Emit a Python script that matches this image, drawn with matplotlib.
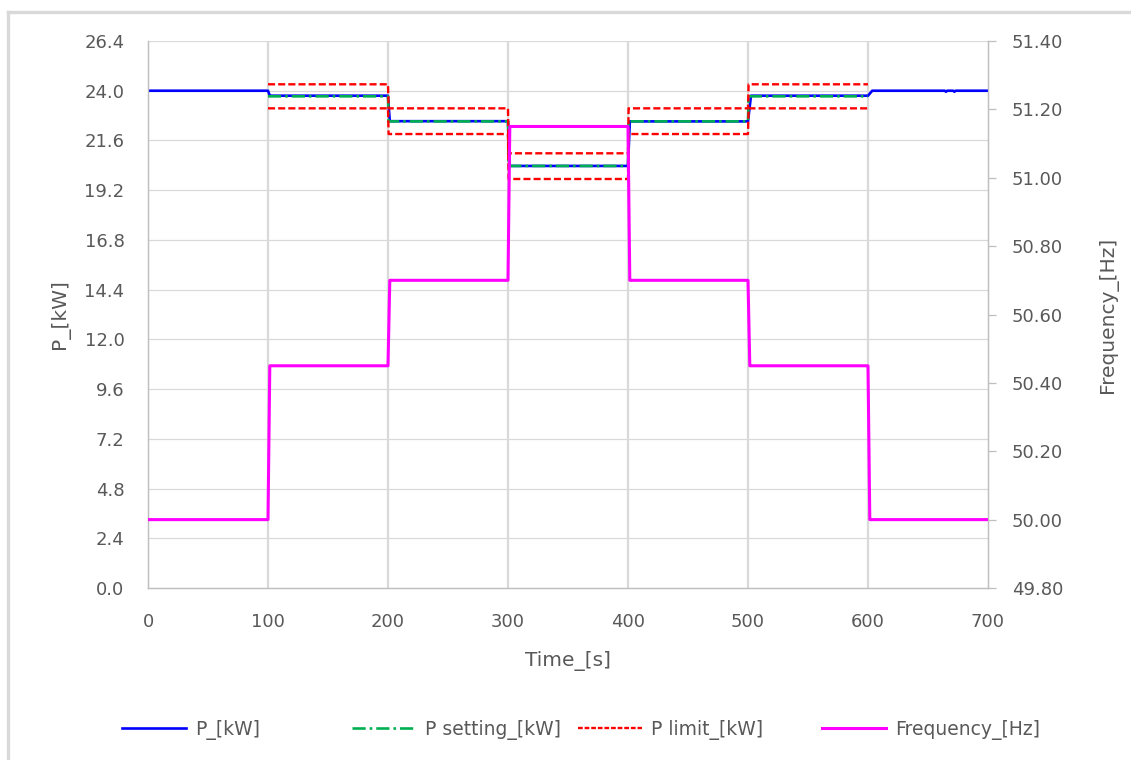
import matplotlib
matplotlib.use("Agg")
import matplotlib.pyplot as plt
from matplotlib.lines import Line2D

# values
TIME_P = [0, 100, 101.5, 200, 201.5, 300, 301.5, 400, 401.5, 500, 502.5,
          600, 601.5, 603.5, 664, 665, 666, 671, 672, 673, 700]
P_KW = [24.0, 24.0, 23.76, 23.76, 22.53, 22.53, 20.37, 20.37, 22.52, 22.52, 23.76,
        23.76, 23.86, 24.0, 24.0, 23.95, 24.0, 24.0, 23.95, 24.0, 24.0]

TIME_SET = [100, 200, 200.5, 300, 300.5, 400, 400.5, 500, 500.5, 600]
P_SET = [23.73, 23.73, 22.52, 22.52, 20.37, 20.37, 22.52, 22.52, 23.73, 23.73]

TIME_LIM = [100, 200, 200.5, 300, 300.5, 400, 400.5, 500, 500.5, 600]
P_LIM_HI = [24.31, 24.31, 23.15, 23.15, 20.98, 20.98, 23.15, 23.15, 24.31, 24.31]
P_LIM_LO = [23.15, 23.15, 21.91, 21.91, 19.74, 19.74, 21.91, 21.91, 23.15, 23.15]

TIME_F = [0, 100, 101.5, 200, 201.5, 300, 301.5, 400, 401.5, 500, 501.5, 600, 601.5, 700]
FREQ_HZ = [50.00, 50.00, 50.45, 50.45, 50.70, 50.70, 51.15, 51.15, 50.70, 50.70,
           50.45, 50.45, 50.00, 50.00]

P_TICKS = [0.0, 2.4, 4.8, 7.2, 9.6, 12.0, 14.4, 16.8, 19.2, 21.6, 24.0, 26.4]
F_TICKS = [49.80, 50.00, 50.20, 50.40, 50.60, 50.80, 51.00, 51.20, 51.40]
T_TICKS = [0, 100, 200, 300, 400, 500, 600, 700]

TXT = "#595959"
GRID = "#D9D9D9"
AXC = "#BFBFBF"

plt.rcParams["font.family"] = ["DejaVu Sans"]

fig = plt.figure(figsize=(11.31, 7.6), dpi=100)
W, H = 1131, 760

# chart border (light gray, cropped on right/bottom)
fig.add_artist(Line2D([7.5 / W, 7.5 / W], [0, 1 - 12 / H], color=GRID, lw=2.4,
                      transform=fig.transFigure))
fig.add_artist(Line2D([7.5 / W, 1.02], [1 - 12 / H, 1 - 12 / H], color=GRID, lw=2.4,
                      transform=fig.transFigure))

ax = fig.add_axes([148 / W, 1 - 588 / H, 840 / W, 547 / H])
ax2 = ax.twinx()

ax.set_xlim(0, 700)
ax.set_ylim(0, 26.4)
ax2.set_ylim(49.8, 51.4)

# gridlines
for y in P_TICKS[1:]:
    ax.axhline(y, color=GRID, lw=0.9, zorder=0)
for x in T_TICKS[1:-1]:
    ax.axvline(x, color=GRID, lw=1.6, zorder=0)

ax.plot(TIME_P, P_KW, color="#0000FF", lw=1.9, zorder=3)
ax.plot(TIME_SET, P_SET, color="#00B050", lw=1.9, dashes=(5, 1.5, 1, 1.5), zorder=4)
ax.plot(TIME_LIM, P_LIM_HI, color="#FF0000", lw=1.7, dashes=(3, 1.3), zorder=5)
ax.plot(TIME_LIM, P_LIM_LO, color="#FF0000", lw=1.7, dashes=(3, 1.3), zorder=5)
ax2.plot(TIME_F, FREQ_HZ, color="#FF00FF", lw=2.2, zorder=6)

for a in (ax, ax2):
    for s in a.spines.values():
        s.set_color(AXC)
        s.set_linewidth(0.9)
    a.spines["top"].set_visible(False)

ax.set_xticks(T_TICKS)
ax.set_yticks(P_TICKS)
ax.set_yticklabels([f"{v:.1f}" for v in P_TICKS])
ax.tick_params(axis="x", length=0, pad=18, labelsize=13, labelcolor=TXT)
ax.tick_params(axis="y", length=0, pad=17, labelsize=13, labelcolor=TXT)

ax2.set_yticks(F_TICKS)
ax2.set_yticklabels([f"{v:.2f}" for v in F_TICKS])
ax2.tick_params(axis="y", length=6, width=0.9, color=AXC, direction="out",
                pad=11, labelsize=13, labelcolor=TXT)

ax.set_xlabel("Time_[s]", fontsize=14.5, color=TXT)
ax.xaxis.set_label_coords(0.5, -0.115)
ax.set_ylabel("P_[kW]", fontsize=14.5, color=TXT)
ax.yaxis.set_label_coords(-0.093, 0.5)
ax2.set_ylabel("Frequency_[Hz]", fontsize=14.5, color=TXT)
ax2.yaxis.set_label_coords(1.131, 0.5)

# legend entries placed like the reference's bottom legend
handles = [
    Line2D([0], [0], color="#0000FF", lw=1.9, label="P_[kW]"),
    Line2D([0], [0], color="#00B050", lw=1.9, dashes=(5, 1.5, 1, 1.5), label="P setting_[kW]"),
    Line2D([0], [0], color="#FF0000", lw=1.7, dashes=(2, 0.8), label="P limit_[kW]"),
    Line2D([0], [0], color="#FF00FF", lw=2.2, label="Frequency_[Hz]"),
]
LEG_X = [122, 352, 578, 822]
for h, x0 in zip(handles, LEG_X):
    leg = fig.legend(handles=[h], loc="center left", bbox_to_anchor=(x0 / W, 1 - 730 / H),
                     frameon=False, fontsize=13.5, handlelength=3.4,
                     handletextpad=0.5, borderpad=0, borderaxespad=0)
    for t in leg.get_texts():
        t.set_color(TXT)

fig.savefig("out.png", dpi=100)
